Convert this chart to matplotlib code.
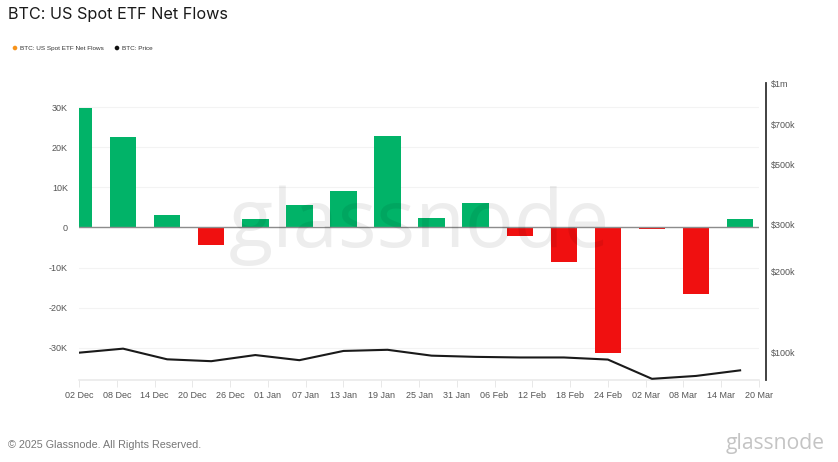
import matplotlib
matplotlib.use("Agg")
import matplotlib.pyplot as plt
from datetime import datetime, timedelta

W, H = 838, 462
start = datetime(2024, 12, 2)
week_offsets = list(range(0, 106, 7))
flows_k = [29.7, 22.5, 3.0, -4.4, 2.0, 5.5, 9.2, 22.8, 2.4, 6.0, -2.0, -8.5, -31.2, -0.3, -16.7, 2.0]
price_usd = [100000, 103500, 94500, 93000, 98000, 93800, 101500, 102500, 97500, 96500, 96000, 96000, 94300, 80000, 82000, 86000]
tick_labels = ["02 Dec", "08 Dec", "14 Dec", "20 Dec", "26 Dec", "01 Jan", "07 Jan", "13 Jan", "19 Jan", "25 Jan",
               "31 Jan", "06 Feb", "12 Feb", "18 Feb", "24 Feb", "02 Mar", "08 Mar", "14 Mar", "20 Mar"]
left_ticks = [30, 20, 10, 0, -10, -20, -30]
left_labels = ["30K", "20K", "10K", "0", "-10K", "-20K", "-30K"]
right_ticks = [100000, 200000, 300000, 500000, 700000, 1000000]
right_labels = ["$100k", "$200k", "$300k", "$500k", "$700k", "$1m"]

plt.rcParams["font.family"] = ["Liberation Sans", "DejaVu Sans"]
fig = plt.figure(figsize=(W / 100, H / 100), dpi=100, facecolor="white")
L, R, T, B = 79, 759, 83, 380
ax = fig.add_axes([L / W, 1 - B / H, (R - L) / W, (B - T) / H])
dates = [start + timedelta(days=d) for d in week_offsets]
tick_dates = [start + timedelta(days=6 * i) for i in range(len(tick_labels))]

ax.bar(dates, flows_k, width=4.2, color=["#01b368" if v > 0 else "#f01010" for v in flows_k], zorder=3)
ax.set_xlim(start, start + timedelta(days=108))
ax.set_ylim(-38.03, 36.03)
ax.set_yticks(left_ticks, left_labels)
ax.set_xticks(tick_dates, tick_labels)
ax.grid(axis="y", color="#f3f3f3", lw=0.8, zorder=0)
ax.axhline(0, color="#8c8c8c", lw=1.0, zorder=4)
for s in ["top", "right", "left"]:
    ax.spines[s].set_visible(False)
ax.spines["bottom"].set_color("#e8e8e8")
ax.spines["bottom"].set_linewidth(1.1)
ax.tick_params(axis="x", length=5, width=0.7, color="#e8e8e8", labelsize=6.5, labelcolor="#555555", pad=3)
ax.tick_params(axis="y", length=0, labelsize=6.5, labelcolor="#555555", pad=8)

ax2 = ax.twinx()
ax2.set_yscale("log")
ax2.set_ylim(79200, 1000000)
ax2.plot(dates, price_usd, color="#1a1a1a", lw=1.5, zorder=5, solid_joinstyle="round")
ax2.set_yticks(right_ticks, right_labels)
ax2.minorticks_off()
for s in ["top", "left", "bottom"]:
    ax2.spines[s].set_visible(False)
ax2.spines["right"].set_position(("outward", 6.5 * 72 / 100))
ax2.spines["right"].set_color("#333333")
ax2.spines["right"].set_linewidth(1.3)
ax2.tick_params(axis="y", length=0, labelsize=6.5, labelcolor="#555555", pad=4)

def fx(x): return x / W
def fy(y): return 1 - y / H

fig.text(fx(8), fy(15), "BTC: US Spot ETF Net Flows", fontsize=11.7, family=["Inter", "DejaVu Sans"], color="#1a1a1a", va="center", ha="left")
fig.text(fx(19.5), fy(48.5), "BTC: US Spot ETF Net Flows", fontsize=4.6, color="#333333", va="center")
fig.text(fx(122), fy(48.5), "BTC: Price", fontsize=4.6, color="#333333", va="center")
dots = fig.add_axes([0, 0, 1, 1], facecolor="none")
dots.set_xlim(0, W); dots.set_ylim(H, 0); dots.axis("off")
dots.scatter([15, 117], [48, 48], s=11, color=["#f7931a", "#111111"], linewidths=0)
fig.text(fx(8), fy(445), "© 2025 Glassnode. All Rights Reserved.", fontsize=7.75, color="#777777", va="center")
fig.text(fx(419), fy(226), "glassnode", fontsize=58.5, family=["Open Sans", "DejaVu Sans"], color="#000000", alpha=0.07,
         ha="center", va="center", zorder=10)
fig.text(fx(775.5), fy(444), "glassnode", fontsize=15.2, family=["Open Sans", "DejaVu Sans"], color="#c4c4c4",
         ha="center", va="center")
fig.savefig("out.png", dpi=100, facecolor="white")
